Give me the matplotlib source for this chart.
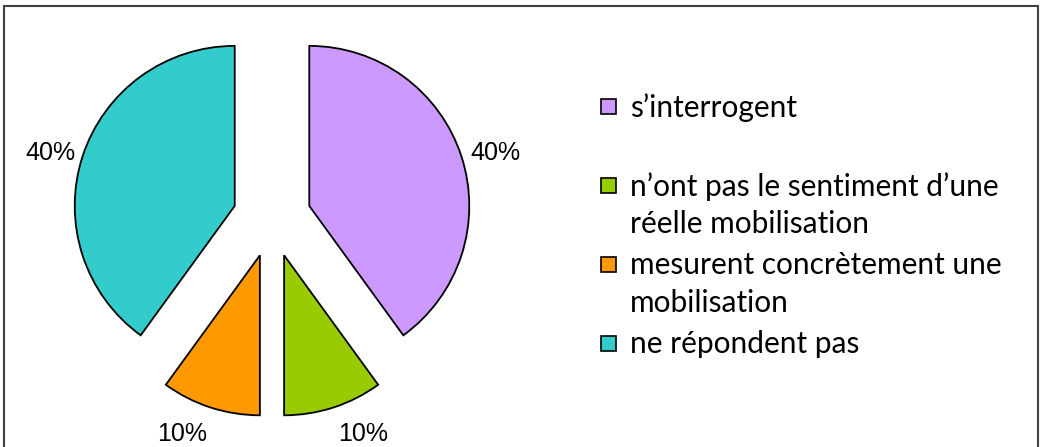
import matplotlib.pyplot as plt
from matplotlib.patches import Rectangle

# Pie data
labels = ["s\u2019interrogent",
          "n\u2019ont pas le sentiment d\u2019une\nr\u00e9elle mobilisation",
          "mesurent concr\u00e8tement une\nmobilisation",
          "ne r\u00e9pondent pas"]
values = [40, 10, 10, 40]
colors = ["#CC99FF", "#99CC00", "#FF9900", "#33CCCC"]

W, H = 1042, 447
fig = plt.figure(figsize=(W / 100, H / 100), dpi=100)

# Axes placed so that the pie centre lands at (272, 218) px with radius 160 px
ax = fig.add_axes([0, 0, 544 / W, 1])
wedges, texts, autotexts = ax.pie(
    values, colors=colors, startangle=90, counterclock=False,
    explode=[0.245] * 4, autopct='%1.0f%%', pctdistance=1.21,
    wedgeprops=dict(edgecolor='black', linewidth=1.3),
    textprops=dict(fontsize=18, family='Liberation Sans', color='black'))
ax.set_aspect('auto')
ax.set_xlim(-1.7, 1.7)
ax.set_ylim(-229 / 160, (H - 229) / 160)
ax.axis('off')

# nudge percent labels to where Excel puts them
nudges = [(0.01, -0.045), (0.12, 0.035), (-0.11, 0.035), (0.0, -0.045)]
for t, (dx, dy) in zip(autotexts, nudges):
    x, y = t.get_position()
    t.set_position((x + dx, y + dy))

# Outer frame
fig.patches.append(Rectangle((4 / W, -0.1), 1034 / W, 1.1 - 6 / H,
                             transform=fig.transFigure, fill=False,
                             edgecolor='#404040', linewidth=1.5))

# Legend, drawn by hand (Excel spreads entries evenly)
for i, (lab, col) in enumerate(zip(labels, colors)):
    yc = 106 + 79 * i
    fig.patches.append(Rectangle((601 / W, 1 - (yc + 8) / H), 15 / W, 15 / H,
                                 transform=fig.transFigure, facecolor=col,
                                 edgecolor='black', linewidth=1.2))
    fig.text(630 / W, 1 - (yc - 13) / H, lab, fontsize=21.5, family='Lato',
             va='top', ha='left', linespacing=1.42)

fig.savefig("out.png", dpi=100)
